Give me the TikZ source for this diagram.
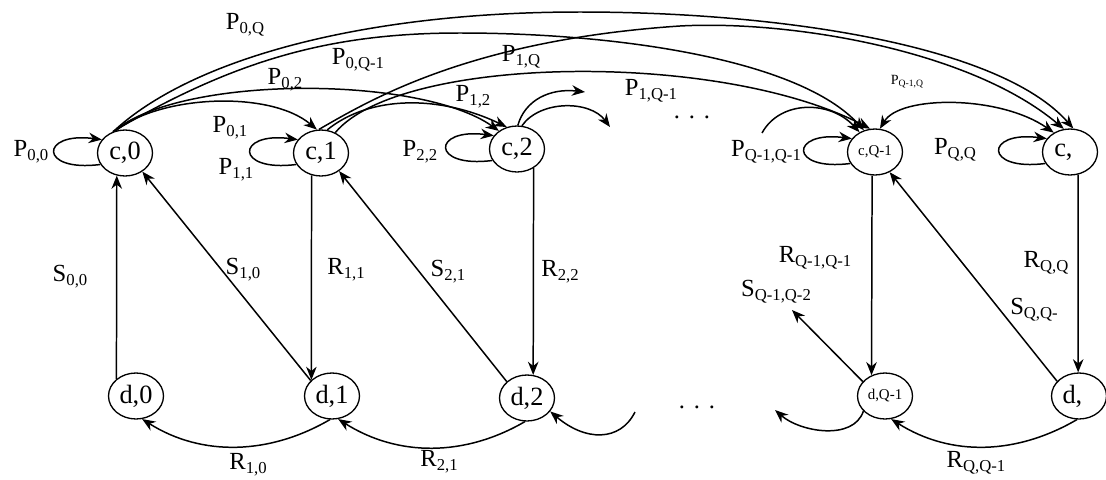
\documentclass[tikz,border=0pt]{standalone}
\usepackage{fontspec}
\setmainfont{Liberation Serif}
\usetikzlibrary{arrows.meta,shapes.geometric}
\newcommand{\lsub}[1]{\raisebox{-0.35ex}{\fontsize{9.5}{10}\selectfont #1}}
\newcommand{\tsub}[1]{\raisebox{-0.3ex}{\fontsize{5.5}{6}\selectfont #1}}
\newcommand{\selfloop}[1]{\draw[arr] (#1.205) .. controls +(-62,8) and +(-62,-8) .. (#1.150);}
\tikzset{
  mytip/.tip={Stealth[length=7.5pt,width=6pt]},
  st/.style={draw,ellipse,line width=0.75pt,minimum width=1.1cm,minimum height=0.92cm,inner sep=0pt,font=\fontsize{15}{16}\selectfont},
  smallst/.style={st,font=\fontsize{8.5}{9}\selectfont},
  lab/.style={inner sep=0pt,font=\fontsize{14}{15}\selectfont},
  arr/.style={line width=0.85pt,-mytip},
  darr/.style={line width=0.85pt,mytip-mytip},
}
\begin{document}
\begin{tikzpicture}[x=0.02cm,y=-0.02cm]
\fill[white] (0,0) rectangle (1106,480);
\useasboundingbox (0,0) rectangle (1106,480);

% states
\node[st] (c0) at (125,153) {c,0};
\node[st] (c1) at (321,153) {c,1};
\node[st] (c2) at (517,149) {c,2};
\node[smallst] (cQ1) at (875,152) {c,Q-1};
\node[st] (cQ) at (1070,152) {c,\hphantom{0}};
\node[st] (d0) at (136,396) {d,0};
\node[st] (d1) at (332,396) {d,1};
\node[st] (d2) at (527,398) {d,2};
\node[smallst] (dQ1) at (885,396) {d,Q-1};
\node[st] (dQ) at (1079,396) {d,\hphantom{0}};

% vertical edges
\draw[arr] (d0.139) -- (c0.250);
\draw[arr] (c1.247) -- (d1.142);
\draw[arr] (c2.311) -- (d2.75);
\draw[arr] (cQ1.263) -- (dQ1.123);
\draw[arr] (cQ.290) -- (dQ.92);

% diagonals
\draw[arr] (d1.144) -- (c0.313);
\draw[arr] (d2.141) -- (c1.315);
\draw[arr] (dQ.146) -- (cQ1.306);
\coordinate (sq) at (792,310);
\draw[arr] (dQ1.147) -- (sq);

% bottom arcs
\draw[arr] (d1.265) .. controls +(-60,35) and +(60,38) .. (d0.285);
\draw[arr] (d2.265) .. controls +(-60,35) and +(60,38) .. (d1.285);
\draw[arr] (dQ.265) .. controls +(-60,35) and +(60,38) .. (dQ1.285);
\coordinate (bin) at (635,412);
\draw[arr] (bin) .. controls +(-15,30) and +(35,30) .. (d2.330);
\coordinate (bout) at (775,410);
\draw[arr] (dQ1.215) .. controls +(-10,30) and +(25,22) .. (bout);

% self loops
\selfloop{c0}
\selfloop{c1}
\selfloop{c2}
\selfloop{cQ1}
\selfloop{cQ}

% top arcs from c,0
\draw[arr] (c0.112) .. controls (160,95) and (270,90) .. (c1.100);
\draw[arr] (c0.116) .. controls (180,75) and (420,75) .. (c2.135);
\draw[arr] (c0.120) .. controls (235,60) and (330,33) .. (460,33)
                    .. controls (620,33) and (800,60) .. (cQ1.117);
\draw[arr] (c0.118) .. controls (190,60) and (360,12) .. (580,12)
                    .. controls (780,12) and (1000,45) .. (cQ.82);
% top arcs from c,1
\draw[arr] (c1.75) .. controls (370,95) and (440,95) .. (c2.115);
\draw[arr] (c1.55) .. controls (400,55) and (720,50) .. (cQ1.102);
\draw[arr] (c1.95) .. controls (370,100) and (470,40) .. (680,26)
                   .. controls (790,20) and (970,50) .. (cQ.105);
% stubs
\coordinate (s1) at (585,92);
\coordinate (s2) at (610,127);
\draw[arr] (c2.88) .. controls (525,100) and (550,88) .. (s1);
\draw[arr] (c2.78) .. controls (540,100) and (590,100) .. (s2);
\coordinate (s3) at (762,133);
\draw[arr] (s3) .. controls (780,100) and (830,100) .. (cQ1.128);
\draw[darr] (cQ1.78) .. controls (900,95) and (1000,95) .. (cQ.130);

% labels
\node[lab] (lP00) at (31,152) {P\lsub{0,0}};
\node[lab] (lP01) at (230,128) {P\lsub{0,1}};
\node[lab] (lP11) at (236,170) {P\lsub{1,1}};
\node[lab] (lP02) at (285,80) {P\lsub{0,2}};
\node[lab] (lP0Q1) at (358,60) {P\lsub{0,Q-1}};
\node[lab] (lP0Q) at (245,25) {P\lsub{0,Q}};
\node[lab] (lP1Q) at (521,57) {P\lsub{1,Q}};
\node[lab] (lP12) at (473,97) {P\lsub{1,2}};
\node[lab] (lP1Q1) at (651,91) {P\lsub{1,Q-1}};
\node[lab] (lP22) at (420,152) {P\lsub{2,2}};
\node[lab] (lPQ1Q1) at (766,152) {P\lsub{Q-1,Q-1}};
\node[inner sep=0pt,font=\fontsize{8}{9}\selectfont] (lPQ1Q) at (907,82) {P\tsub{Q-1,Q}};
\node[lab] (lPQQ) at (955,150) {P\lsub{Q,Q}};
\node[lab] (lS00) at (70,277) {S\lsub{0,0}};
\node[lab] (lS10) at (243,270) {S\lsub{1,0}};
\node[lab] (lR11) at (346,270) {R\lsub{1,1}};
\node[lab] (lS21) at (448,272) {S\lsub{2,1}};
\node[lab] (lR22) at (560,272) {R\lsub{2,2}};
\node[lab] (lRQ1Q1) at (815,258) {R\lsub{Q-1,Q-1}};
\node[lab] (lSQ1Q2) at (776,292) {S\lsub{Q-1,Q-2}};
\node[lab] (lRQQ) at (1046,263) {R\lsub{Q,Q}};
\node[lab] (lSQQ) at (1034,310) {S\lsub{Q,Q-}};
\node[lab] (lR10) at (248,465) {R\lsub{1,0}};
\node[lab] (lR21) at (439,462) {R\lsub{2,1}};
\node[lab] (lRQQ1) at (976,463) {R\lsub{Q,Q-1}};
\node[lab] (dots1) at (692,117) {.\hspace{5pt}.\hspace{5pt}.};
\node[lab] (dots2) at (697,407) {.\hspace{5pt}.\hspace{5pt}.};
\end{tikzpicture}
\end{document}
